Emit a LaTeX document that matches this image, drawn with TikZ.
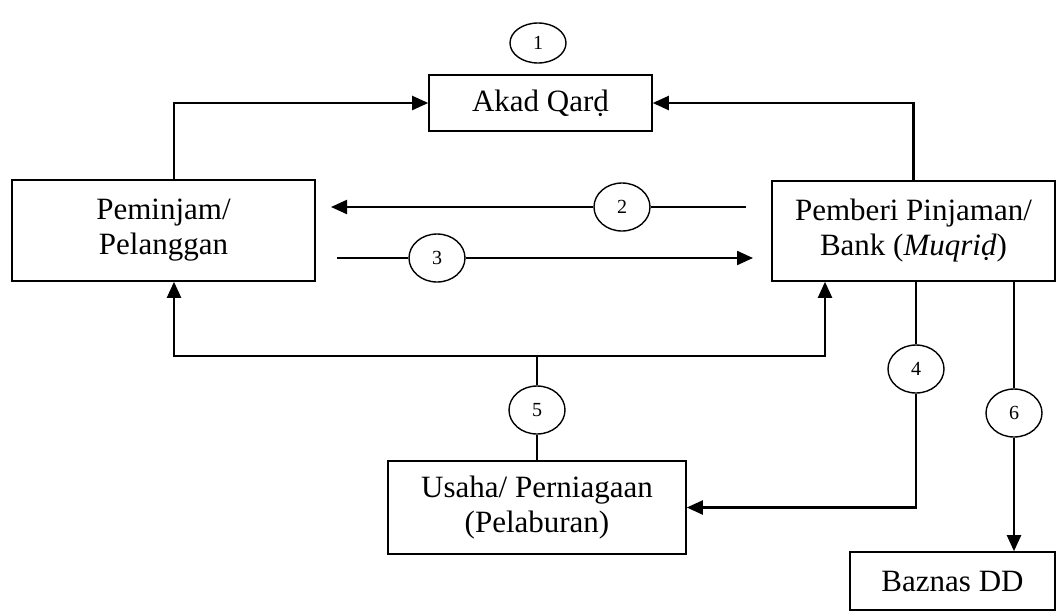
\documentclass[tikz,border=0pt]{standalone}
\usepackage{fontspec}
\setmainfont{Liberation Serif}
\usetikzlibrary{arrows.meta,shapes.geometric}
\tikzset{
  box/.style={draw=black, line width=1.6pt, rectangle, inner sep=0pt, align=center,
    font=\fontsize{31}{35}\selectfont},
  num/.style={draw=black, line width=1.4pt, ellipse, inner sep=0pt,
    minimum width=56pt, minimum height=48pt, font=\fontsize{20}{24}\selectfont},
  link/.style={draw=black, line width=2.2pt},
  arr/.style={link, -{Triangle[length=16pt,width=14pt]}}
}
\begin{document}
\begin{tikzpicture}[x=1pt,y=-1pt]
\useasboundingbox (0,0) rectangle (1057,611);

% boxes
\node[box, minimum width=223pt, minimum height=56pt] (akad) at (540.5,103) {Akad Qarḍ};
\node[box, minimum width=303pt, minimum height=101pt] (pem) at (163.5,230.5) {Peminjam/\\Pelanggan};
\node[box, minimum width=283pt, minimum height=100pt] (ban) at (913.5,231) {Pemberi Pinjaman/\\Bank (\textit{Muqriḍ})};
\node[box, minimum width=298pt, minimum height=93pt] (usa) at (537,507.5) {Usaha/ Perniagaan\\(Pelaburan)};
\node[box, minimum width=205pt, minimum height=58pt] (baz) at (952.5,581) {Baznas DD};

% numbered markers
\node[num, minimum height=40pt] (c1) at (538,43) {1};
\node[num] (c2) at (622,207) {2};
\node[num] (c3) at (437,258) {3};
\node[num] (c4) at (916,369) {4};
\node[num] (c5) at (537,410) {5};
\node[num] (c6) at (1014,413) {6};

% helper points
\coordinate (pL) at (174,0);
\coordinate (bR) at (825,0);
\coordinate (a2s) at (746,207);
\coordinate (a2e) at (331,207);
\coordinate (a3s) at (337,258);
\coordinate (a3e) at (753,258);
\coordinate (j5) at (537,356);

% agreement links
\draw[arr] (pem.north -| pL) |- (akad.west);
\draw[arr] (ban.north) |- (akad.east);

% flows 2 and 3
\draw[link] (a2s) -- (c2);
\draw[arr] (c2) -- (a2e);
\draw[link] (a3s) -- (c3);
\draw[arr] (c3) -- (a3e);

% flow 4
\draw[link] (ban.south -| c4) -- (c4);
\draw[arr] (c4) |- (usa.east);

% flow 5
\draw[link] (usa.north) -- (c5);
\draw[link] (c5) -- (j5);
\draw[arr] (j5) -| (pem.south -| pL);
\draw[arr] (j5) -| (ban.south -| bR);

% flow 6
\draw[link] (ban.south -| c6) -- (c6);
\draw[arr] (c6) -- (baz.north -| c6);
\end{tikzpicture}
\end{document}
